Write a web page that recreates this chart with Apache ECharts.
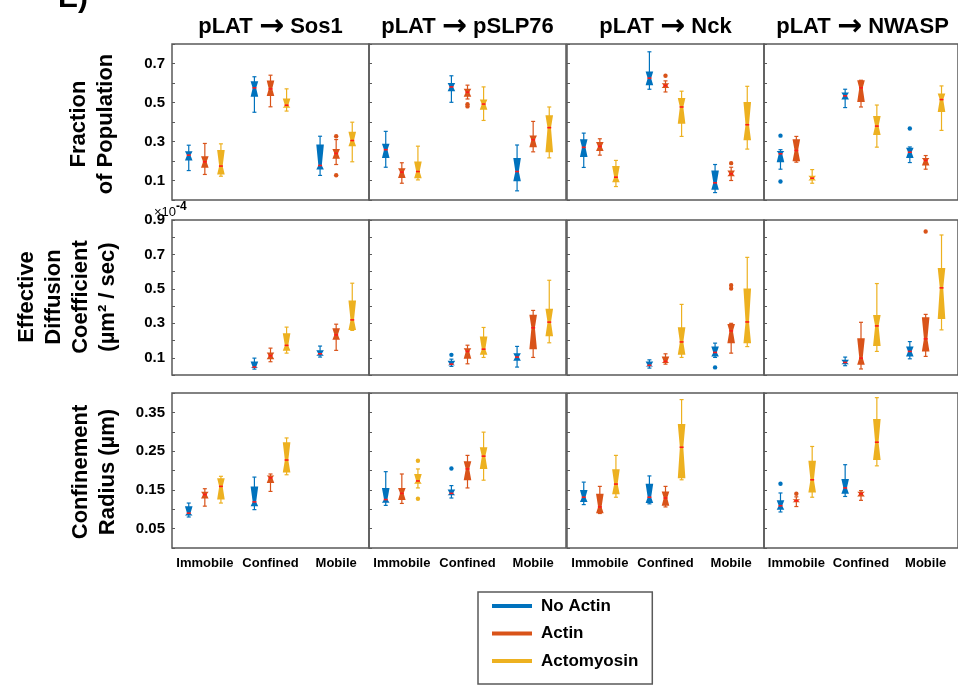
<!DOCTYPE html>
<html>
<head>
<meta charset="utf-8">
<script src="https://cdn.jsdelivr.net/npm/echarts@6/dist/echarts.min.js"></script>
<style>
  html, body { margin: 0; padding: 0; background: #fff; }
  #main { width: 958px; height: 685px; }
</style>
</head>
<body>
<div id="main"></div>
<script>
// categories / conditions
const categories = ['Immobile', 'Confined', 'Mobile'];
const conditions = ['No Actin', 'Actin', 'Actomyosin'];
const targets = ['Sos1', 'pSLP76', 'Nck', 'NWASP'];

// each box: [low whisker, q1, median, q3, high whisker]
// order: Immobile(No Actin, Actin, Actomyosin), Confined(...), Mobile(...)
const fracSos1 = [
  [0.151, 0.203, 0.230, 0.250, 0.281], [0.131, 0.165, 0.196, 0.225, 0.290], [0.122, 0.131, 0.174, 0.256, 0.288],
  [0.450, 0.529, 0.575, 0.609, 0.632], [0.478, 0.533, 0.570, 0.613, 0.640], [0.456, 0.473, 0.486, 0.521, 0.570],
  [0.126, 0.157, 0.177, 0.285, 0.327], [0.182, 0.211, 0.239, 0.262, 0.310], [0.196, 0.276, 0.305, 0.350, 0.399]
];
const fracSLP76 = [
  [0.168, 0.216, 0.258, 0.288, 0.352], [0.086, 0.113, 0.143, 0.163, 0.191], [0.103, 0.112, 0.146, 0.197, 0.276],
  [0.501, 0.558, 0.580, 0.600, 0.637], [0.518, 0.529, 0.553, 0.570, 0.589], [0.408, 0.463, 0.492, 0.515, 0.580],
  [0.047, 0.096, 0.146, 0.216, 0.282], [0.247, 0.271, 0.309, 0.331, 0.403], [0.216, 0.245, 0.371, 0.434, 0.477]
];
const fracNck = [
  [0.167, 0.220, 0.270, 0.311, 0.343], [0.230, 0.251, 0.275, 0.297, 0.314], [0.069, 0.091, 0.117, 0.174, 0.203],
  [0.568, 0.589, 0.625, 0.659, 0.760], [0.554, 0.575, 0.587, 0.599, 0.611], [0.326, 0.391, 0.477, 0.523, 0.558],
  [0.038, 0.053, 0.088, 0.151, 0.182], [0.100, 0.122, 0.134, 0.151, 0.168], [0.261, 0.306, 0.386, 0.503, 0.583]
];
const fracNWASP = [
  [0.158, 0.194, 0.237, 0.251, 0.258], [0.194, 0.199, 0.254, 0.311, 0.326], [0.086, 0.100, 0.112, 0.125, 0.156],
  [0.474, 0.516, 0.534, 0.551, 0.568], [0.477, 0.503, 0.575, 0.614, 0.614], [0.271, 0.333, 0.379, 0.431, 0.487],
  [0.192, 0.216, 0.245, 0.268, 0.272], [0.158, 0.177, 0.203, 0.215, 0.228], [0.357, 0.451, 0.515, 0.546, 0.585]
];

// diffusion coefficient, x 10^-4
const diffSos1 = [
  null, null, null,
  [0.034, 0.040, 0.046, 0.079, 0.098], [0.077, 0.092, 0.112, 0.131, 0.156], [0.127, 0.141, 0.172, 0.243, 0.278],
  [0.104, 0.112, 0.123, 0.143, 0.168], [0.143, 0.204, 0.233, 0.272, 0.295], [0.259, 0.262, 0.320, 0.433, 0.533]
];
const diffSLP76 = [
  null, null, null,
  [0.050, 0.056, 0.063, 0.083, 0.092], [0.065, 0.094, 0.137, 0.156, 0.173], [0.102, 0.117, 0.150, 0.224, 0.276],
  [0.046, 0.083, 0.104, 0.127, 0.166], [0.102, 0.150, 0.274, 0.350, 0.375], [0.187, 0.225, 0.307, 0.384, 0.550]
];
const diffNck = [
  null, null, null,
  [0.040, 0.050, 0.056, 0.079, 0.088], [0.063, 0.069, 0.079, 0.108, 0.123], [0.102, 0.117, 0.192, 0.277, 0.410],
  [0.102, 0.108, 0.131, 0.165, 0.185], [0.127, 0.185, 0.256, 0.296, 0.300], [0.165, 0.185, 0.308, 0.502, 0.683]
];
const diffNWASP = [
  null, null, null,
  [0.054, 0.063, 0.073, 0.088, 0.104], [0.035, 0.060, 0.098, 0.213, 0.306], [0.137, 0.169, 0.285, 0.348, 0.531],
  [0.094, 0.108, 0.137, 0.165, 0.194], [0.108, 0.137, 0.210, 0.335, 0.352], [0.262, 0.325, 0.506, 0.621, 0.813]
];

// confinement radius (um), no mobile data
const radSos1 = [
  [0.080, 0.084, 0.090, 0.108, 0.116], [0.108, 0.128, 0.138, 0.145, 0.153], [0.116, 0.125, 0.159, 0.180, 0.185],
  [0.099, 0.108, 0.119, 0.159, 0.183], [0.146, 0.168, 0.181, 0.187, 0.191], [0.189, 0.195, 0.227, 0.273, 0.284],
  null, null, null
];
const radSLP76 = [
  [0.110, 0.117, 0.125, 0.155, 0.197], [0.115, 0.124, 0.141, 0.155, 0.191], [0.155, 0.166, 0.173, 0.191, 0.204],
  [0.129, 0.136, 0.141, 0.151, 0.161], [0.155, 0.175, 0.204, 0.224, 0.239], [0.175, 0.204, 0.237, 0.260, 0.299],
  null, null, null
];
const radNck = [
  [0.112, 0.119, 0.131, 0.150, 0.170], [0.089, 0.090, 0.106, 0.140, 0.159], [0.131, 0.139, 0.165, 0.203, 0.239],
  [0.114, 0.116, 0.131, 0.166, 0.186], [0.106, 0.109, 0.129, 0.146, 0.159], [0.176, 0.180, 0.260, 0.320, 0.383],
  null, null, null
];
const radNWASP = [
  [0.093, 0.099, 0.109, 0.123, 0.142], [0.107, 0.118, 0.122, 0.126, 0.132], [0.131, 0.143, 0.176, 0.225, 0.262],
  [0.133, 0.140, 0.155, 0.178, 0.215], [0.123, 0.133, 0.140, 0.145, 0.148], [0.212, 0.227, 0.273, 0.333, 0.388],
  null, null, null
];

// outliers: [box index, value]
const fracSos1Out = [[7, 0.327], [7, 0.127]];
const fracSLP76Out = [[4, 0.491], [4, 0.480]];
const fracNckOut = [[4, 0.637], [7, 0.189]];
const fracNWASPOut = [[0, 0.330], [0, 0.095], [6, 0.367]];
const diffSos1Out = [];
const diffSLP76Out = [[3, 0.117]];
const diffNckOut = [[6, 0.044], [7, 0.521], [7, 0.502]];
const diffNWASPOut = [[7, 0.833]];
const radSos1Out = [];
const radSLP76Out = [[2, 0.225], [2, 0.127], [3, 0.205]];
const radNckOut = [];
const radNWASPOut = [[0, 0.166], [1, 0.140]];

// tick labels shown on the first column
const fracTicks = ['0.1', '0.3', '0.5', '0.7'];
const diffTicks = ['0.1', '0.3', '0.5', '0.7', '0.9'];
const radTicks = ['0.05', '0.15', '0.25', '0.35'];

const boxes = [
  [fracSos1, fracSLP76, fracNck, fracNWASP],
  [diffSos1, diffSLP76, diffNck, diffNWASP],
  [radSos1, radSLP76, radNck, radNWASP]
];
const outliers = [
  [fracSos1Out, fracSLP76Out, fracNckOut, fracNWASPOut],
  [diffSos1Out, diffSLP76Out, diffNckOut, diffNWASPOut],
  [radSos1Out, radSLP76Out, radNckOut, radNWASPOut]
];

const colors = ['#0072BD', '#D95319', '#EDB120'];
const font = 'Liberation Sans, Arial, sans-serif';
const rowAxis = [
  { min: 0, max: 0.8, interval: 0.1, ticks: fracTicks },
  { min: 0, max: 0.9, interval: 0.1, ticks: diffTicks },
  { min: 0, max: 0.4, interval: 0.05, ticks: radTicks }
];
const colLeft = [172, 369, 567, 764];
const rowTop = [44, 220, 393];
const rowHeight = [156, 155, 155];

function boxX(api, cat, cond) {
  const band = api.size([1, 0])[0];
  return api.coord([cat, 0])[0] + (cond - 1) * band * 0.245;
}

function renderBox(params, api) {
  const cat = api.value(0);
  const cond = api.value(1);
  const cx = boxX(api, cat, cond);
  const y = d => api.coord([cat, api.value(d)])[1];
  const low = y(2), q1 = y(3), med = y(4), q3 = y(5), high = y(6);
  const hw = 3.8;
  const color = api.visual('color');
  const line = (x1, y1, x2, y2, c, w) => ({
    type: 'line', shape: { x1, y1, x2, y2 }, style: { stroke: c, lineWidth: w }
  });
  return {
    type: 'group',
    children: [
      line(cx, low, cx, high, color, 1.2),
      line(cx - 2, low, cx + 2, low, color, 1.2),
      line(cx - 2, high, cx + 2, high, color, 1.2),
      {
        type: 'polygon',
        shape: { points: [[cx - hw, q1], [cx - hw * 0.45, med], [cx - hw, q3], [cx + hw, q3], [cx + hw * 0.45, med], [cx + hw, q1]] },
        style: { fill: color }
      },
      line(cx - 2, med, cx + 2, med, '#ff1a1a', 1.6)
    ]
  };
}

function renderDot(params, api) {
  const cat = api.value(0);
  const cond = api.value(1);
  const cx = boxX(api, cat, cond);
  const cy = api.coord([cat, api.value(2)])[1];
  return { type: 'circle', shape: { cx, cy, r: 2.2 }, style: { fill: colors[cond] } };
}

const grid = [], xAxis = [], yAxis = [], series = [];
for (let r = 0; r < 3; r++) {
  for (let c = 0; c < 4; c++) {
    const gi = r * 4 + c;
    const ax = rowAxis[r];
    grid.push({
      left: colLeft[c], top: rowTop[r], width: 197, height: rowHeight[r],
      show: true, borderColor: '#5a5a5a', borderWidth: 1.5, backgroundColor: 'transparent'
    });
    xAxis.push({
      type: 'category', gridIndex: gi, data: categories, boundaryGap: true,
      axisLine: { show: false }, axisTick: { show: false }, splitLine: { show: false },
      axisLabel: {
        show: r === 2, interval: 0, hideOverlap: false,
        fontSize: 13, fontWeight: 'bold', color: '#000', fontFamily: font, margin: 9
      }
    });
    yAxis.push({
      type: 'value', gridIndex: gi, min: ax.min, max: ax.max, interval: ax.interval,
      axisLine: { show: false }, splitLine: { show: false },
      axisTick: { show: true, inside: true, length: 3, lineStyle: { color: '#5a5a5a', width: 1 } },
      axisLabel: {
        show: c === 0, fontSize: 15, fontWeight: 'bold', color: '#000', fontFamily: font, margin: 7,
        formatter: v => {
          const s = String(Math.round(v * 100) / 100);
          return ax.ticks.includes(s) ? s : '';
        }
      }
    });
    for (let k = 0; k < 3; k++) {
      const data = [];
      boxes[r][c].forEach((b, i) => {
        if (b && i % 3 === k) data.push([Math.floor(i / 3), k].concat(b));
      });
      series.push({
        type: 'custom', name: conditions[k], xAxisIndex: gi, yAxisIndex: gi,
        itemStyle: { color: colors[k] }, renderItem: renderBox,
        encode: { x: 0, y: [2, 3, 4, 5, 6] }, data, z: 2
      });
    }
    series.push({
      type: 'custom', name: 'outliers', xAxisIndex: gi, yAxisIndex: gi,
      renderItem: renderDot, encode: { x: 0, y: 2 }, z: 3,
      data: outliers[r][c].map(([i, v]) => [Math.floor(i / 3), i % 3, v])
    });
  }
}

const titleText = (target, x, y) => ({
  type: 'text', x, y,
  style: {
    text: '{t|pLAT }{a|→}{t| ' + target + '}',
    rich: {
      t: { fontSize: 22, fontWeight: 'bold', fontFamily: font, fill: '#000', color: '#000' },
      a: { fontSize: 30, fontWeight: 'bold', fontFamily: 'DejaVu Sans', fill: '#000', color: '#000' }
    },
    align: 'center', verticalAlign: 'middle', textAlign: 'center', textVerticalAlign: 'middle'
  }
});
const rowLabel = (text, x, y) => ({
  type: 'text', x, y, rotation: Math.PI / 2,
  style: { text, fontSize: 22, lineHeight: 27, fontWeight: 'bold', fontFamily: font, fill: '#000', align: 'center', verticalAlign: 'middle', textAlign: 'center', textVerticalAlign: 'middle' }
});

const graphic = [
  { type: 'text', x: 58, y: -16, style: { text: 'E)', fontSize: 30, fontWeight: 'bold', fontFamily: font, fill: '#000', verticalAlign: 'top', textVerticalAlign: 'top' } },
  rowLabel('Fraction\nof Population', 92, 124),
  rowLabel('Effective\nDiffusion\nCoefficient\n(µm² / sec)', 67, 297),
  rowLabel('Confinement\nRadius (µm)', 94, 472),
  { type: 'text', x: 154, y: 206, style: { text: '×10', fontSize: 13, fontFamily: font, fill: '#000', verticalAlign: 'top', textVerticalAlign: 'top' } },
  { type: 'text', x: 176, y: 201, style: { text: '-4', fontSize: 12, fontWeight: 'bold', fontFamily: font, fill: '#000', verticalAlign: 'top', textVerticalAlign: 'top' } }
];
targets.forEach((t, c) => graphic.push(titleText(t, colLeft[c] + 98.5, 27)));

const chart = echarts.init(document.getElementById('main'));
chart.setOption({
  animation: false,
  backgroundColor: '#fff',
  textStyle: { fontFamily: font },
  grid, xAxis, yAxis, series, graphic,
  legend: {
    data: conditions, orient: 'vertical', left: 478, top: 592,
    icon: 'rect', itemWidth: 40, itemHeight: 4, itemGap: 7.5,
    padding: [4, 14, 13, 14],
    borderColor: '#5a5a5a', borderWidth: 1.5,
    textStyle: { fontSize: 17, fontWeight: 'bold', color: '#000', lineHeight: 20, padding: [0, 0, 0, 4], fontFamily: font },
    selectedMode: false
  }
});
</script>
</body>
</html>
